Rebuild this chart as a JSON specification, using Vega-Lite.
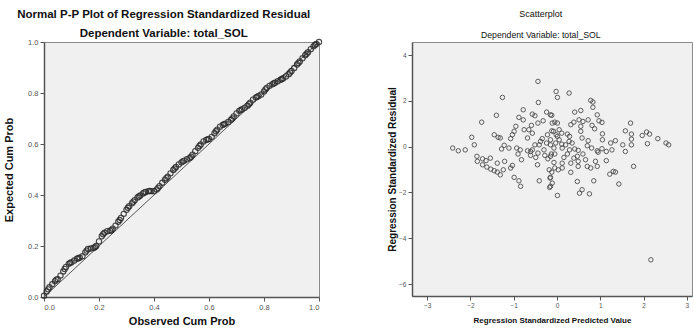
{
  "$schema": "https://vega.github.io/schema/vega-lite/v6.json",
  "padding": {"left": 3, "top": 8, "right": 0, "bottom": 0},
  "spacing": 62,
  "background": "white",
  "config": {
    "font": "Liberation Sans",
    "view": {"fill": "#F0F0F0", "stroke": "#8a8a8a", "strokeWidth": 1},
    "axis": {"grid": false, "domainColor": "#555", "domainWidth": 1.5, "tickColor": "#555", "tickSize": 4, "labelColor": "#555", "labelPadding": 2, "titleColor": "#111", "titleFontWeight": "bold"},
    "title": {"color": "#111", "subtitleColor": "#111"}
  },
  "datasets": {
    "pp": [
      {"o":0.00,"e":0.005},{"o":0.01,"e":0.022},{"o":0.02,"e":0.038},{"o":0.03,"e":0.05},{"o":0.04,"e":0.062},{"o":0.05,"e":0.07},{"o":0.06,"e":0.084},{"o":0.07,"e":0.10},{"o":0.08,"e":0.118},{"o":0.09,"e":0.13},
      {"o":0.10,"e":0.136},{"o":0.11,"e":0.143},{"o":0.12,"e":0.15},{"o":0.13,"e":0.155},{"o":0.14,"e":0.16},{"o":0.15,"e":0.175},{"o":0.16,"e":0.188},{"o":0.17,"e":0.19},{"o":0.18,"e":0.192},{"o":0.19,"e":0.20},
      {"o":0.20,"e":0.218},{"o":0.21,"e":0.238},{"o":0.22,"e":0.252},{"o":0.23,"e":0.258},{"o":0.24,"e":0.26},{"o":0.25,"e":0.268},{"o":0.26,"e":0.28},{"o":0.27,"e":0.295},{"o":0.28,"e":0.31},{"o":0.29,"e":0.326},
      {"o":0.30,"e":0.342},{"o":0.31,"e":0.356},{"o":0.32,"e":0.368},{"o":0.33,"e":0.38},{"o":0.34,"e":0.39},{"o":0.35,"e":0.398},{"o":0.36,"e":0.406},{"o":0.37,"e":0.412},{"o":0.38,"e":0.415},{"o":0.39,"e":0.415},
      {"o":0.40,"e":0.415},{"o":0.41,"e":0.422},{"o":0.42,"e":0.435},{"o":0.43,"e":0.448},{"o":0.44,"e":0.46},{"o":0.45,"e":0.472},{"o":0.46,"e":0.485},{"o":0.47,"e":0.498},{"o":0.48,"e":0.51},{"o":0.49,"e":0.52},
      {"o":0.50,"e":0.528},{"o":0.51,"e":0.535},{"o":0.52,"e":0.54},{"o":0.53,"e":0.545},{"o":0.54,"e":0.558},{"o":0.55,"e":0.572},{"o":0.56,"e":0.585},{"o":0.57,"e":0.598},{"o":0.58,"e":0.61},{"o":0.59,"e":0.616},
      {"o":0.60,"e":0.62},{"o":0.61,"e":0.628},{"o":0.62,"e":0.642},{"o":0.63,"e":0.656},{"o":0.64,"e":0.668},{"o":0.65,"e":0.675},{"o":0.66,"e":0.68},{"o":0.67,"e":0.686},{"o":0.68,"e":0.695},{"o":0.69,"e":0.708},
      {"o":0.70,"e":0.72},{"o":0.71,"e":0.73},{"o":0.72,"e":0.736},{"o":0.73,"e":0.742},{"o":0.74,"e":0.75},{"o":0.75,"e":0.762},{"o":0.76,"e":0.774},{"o":0.77,"e":0.782},{"o":0.78,"e":0.788},{"o":0.79,"e":0.794},
      {"o":0.80,"e":0.806},{"o":0.81,"e":0.82},{"o":0.82,"e":0.828},{"o":0.83,"e":0.834},{"o":0.84,"e":0.84},{"o":0.85,"e":0.846},{"o":0.86,"e":0.852},{"o":0.87,"e":0.858},{"o":0.88,"e":0.865},{"o":0.89,"e":0.874},
      {"o":0.90,"e":0.886},{"o":0.91,"e":0.898},{"o":0.92,"e":0.912},{"o":0.93,"e":0.924},{"o":0.94,"e":0.936},{"o":0.95,"e":0.948},{"o":0.96,"e":0.96},{"o":0.97,"e":0.972},{"o":0.98,"e":0.983},{"o":0.99,"e":0.992},
      {"o":1.00,"e":1.0},
      {"o":0.015,"e":0.03},{"o":0.045,"e":0.068},{"o":0.075,"e":0.11},{"o":0.095,"e":0.134},{"o":0.125,"e":0.152},{"o":0.155,"e":0.182},{"o":0.185,"e":0.195},{"o":0.215,"e":0.246},{"o":0.245,"e":0.262},{"o":0.275,"e":0.302},
      {"o":0.305,"e":0.35},{"o":0.325,"e":0.374},{"o":0.345,"e":0.394},{"o":0.365,"e":0.41},{"o":0.385,"e":0.416},{"o":0.415,"e":0.428},{"o":0.445,"e":0.466},{"o":0.475,"e":0.504},{"o":0.505,"e":0.532},{"o":0.535,"e":0.55},
      {"o":0.565,"e":0.592},{"o":0.595,"e":0.618},{"o":0.625,"e":0.65},{"o":0.655,"e":0.678},{"o":0.685,"e":0.70},{"o":0.715,"e":0.733},{"o":0.745,"e":0.756},{"o":0.775,"e":0.785},{"o":0.805,"e":0.814},{"o":0.835,"e":0.837},
      {"o":0.865,"e":0.855},{"o":0.895,"e":0.88},{"o":0.925,"e":0.918},{"o":0.955,"e":0.954},{"o":0.985,"e":0.988}
    ],
    "diag": [{"o":0,"e":0},{"o":1,"e":1}],
    "sc": [
      {"p":-0.44,"r":2.85},{"p":-1.26,"r":2.15},{"p":-0.43,"r":1.93},{"p":-0.78,"r":1.61},{"p":-1.40,"r":1.37},{"p":-1.74,"r":1.07},{"p":-0.57,"r":1.42},{"p":-0.51,"r":1.35},{"p":-0.88,"r":1.28},{"p":-0.78,"r":1.17},
      {"p":-0.32,"r":1.13},{"p":-0.24,"r":1.51},{"p":-0.15,"r":1.39},{"p":-0.44,"r":1.03},{"p":-0.59,"r":0.93},{"p":-0.95,"r":0.89},{"p":-0.76,"r":0.74},{"p":-0.65,"r":0.74},{"p":-0.57,"r":0.59},{"p":-0.99,"r":0.67},
      {"p":-1.03,"r":0.52},{"p":-1.45,"r":0.52},{"p":-1.36,"r":0.41},{"p":-1.31,"r":0.38},{"p":-1.07,"r":0.35},{"p":-1.97,"r":0.41},{"p":-1.91,"r":0.08},{"p":-2.41,"r":-0.06},{"p":-2.28,"r":-0.18},{"p":-2.12,"r":-0.14},
      {"p":-1.22,"r":0.06},{"p":-1.28,"r":-0.10},{"p":-1.11,"r":-0.06},{"p":-0.93,"r":-0.06},{"p":-0.85,"r":-0.14},{"p":-0.68,"r":-0.18},{"p":-0.57,"r":-0.14},{"p":-0.90,"r":-0.32},{"p":-0.82,"r":-0.57},{"p":-0.61,"r":-0.38},
      {"p":-0.49,"r":-0.47},{"p":-0.45,"r":-0.79},{"p":-0.30,"r":-0.14},{"p":-0.41,"r":0.08},{"p":-0.38,"r":0.23},{"p":-0.24,"r":0.16},{"p":-0.15,"r":0.08},{"p":-0.21,"r":-0.53},{"p":-1.85,"r":-0.42},{"p":-1.72,"r":-0.53},
      {"p":-1.84,"r":-0.64},{"p":-1.64,"r":-0.61},{"p":-1.54,"r":-0.50},{"p":-1.72,"r":-0.79},{"p":-1.62,"r":-0.89},{"p":-1.53,"r":-0.98},{"p":-1.45,"r":-1.05},{"p":-1.38,"r":-1.11},{"p":-1.31,"r":-1.23},{"p":-1.24,"r":-1.01},
      {"p":-1.38,"r":-0.72},{"p":-1.21,"r":-0.64},{"p":-1.07,"r":-0.93},{"p":-1.03,"r":-0.82},{"p":-0.99,"r":-1.34},{"p":-0.88,"r":-1.49},{"p":-0.84,"r":-1.73},{"p":-0.41,"r":-1.49},{"p":-0.16,"r":-1.37},{"p":-0.15,"r":-1.73},
      {"p":-0.08,"r":0.67},{"p":-0.18,"r":-1.01},{"p":-0.34,"r":0.35},{"p":-0.61,"r":-0.21},{"p":-0.13,"r":-0.32},{"p":-0.22,"r":0.52},{"p":-0.51,"r":0.08},{"p":-0.68,"r":0.38},{"p":-0.28,"r":-0.38},{"p":-0.44,"r":-0.28},
      {"p":-0.02,"r":2.41},{"p":0.01,"r":2.15},{"p":0.28,"r":2.34},{"p":0.78,"r":2.02},{"p":0.83,"r":1.95},{"p":0.83,"r":1.72},{"p":0.41,"r":1.51},{"p":0.55,"r":1.58},{"p":0.93,"r":1.39},{"p":-0.12,"r":1.37},
      {"p":-0.05,"r":1.07},{"p":0.01,"r":1.03},{"p":0.32,"r":0.96},{"p":0.39,"r":1.07},{"p":0.51,"r":1.17},{"p":0.60,"r":1.10},{"p":0.72,"r":1.17},{"p":0.81,"r":0.93},{"p":0.87,"r":0.78},{"p":0.97,"r":1.13},
      {"p":1.04,"r":1.06},{"p":0.55,"r":0.89},{"p":0.55,"r":0.67},{"p":-0.12,"r":0.69},{"p":0.05,"r":0.74},{"p":0.11,"r":0.59},{"p":0.24,"r":0.55},{"p":0.29,"r":0.45},{"p":0.01,"r":0.45},{"p":-0.03,"r":0.16},
      {"p":-0.15,"r":0.30},{"p":0.11,"r":0.11},{"p":0.28,"r":0.23},{"p":0.35,"r":0.16},{"p":0.12,"r":-0.06},{"p":-0.05,"r":-0.32},{"p":-0.15,"r":-0.42},{"p":0.16,"r":-0.47},{"p":0.29,"r":-0.14},{"p":0.41,"r":-0.10},
      {"p":0.49,"r":-0.16},{"p":0.60,"r":-0.32},{"p":0.72,"r":0.26},{"p":0.70,"r":0.04},{"p":0.80,"r":-0.06},{"p":0.93,"r":-0.18},{"p":0.95,"r":-0.24},{"p":1.04,"r":-0.09},{"p":1.05,"r":0.30},{"p":1.05,"r":0.56},
      {"p":1.24,"r":0.16},{"p":1.27,"r":-0.14},{"p":1.35,"r":0.26},{"p":1.14,"r":-0.21},{"p":1.52,"r":0.08},{"p":1.58,"r":0.69},{"p":1.58,"r":-0.21},{"p":1.70,"r":1.03},{"p":1.72,"r":0.55},{"p":1.72,"r":0.33},
      {"p":1.72,"r":0.08},{"p":1.97,"r":0.49},{"p":2.07,"r":0.64},{"p":2.14,"r":0.55},{"p":2.09,"r":0.13},{"p":2.33,"r":0.35},{"p":2.52,"r":0.16},{"p":2.58,"r":0.08},{"p":1.14,"r":-0.61},{"p":0.66,"r":-0.57},
      {"p":0.49,"r":-0.64},{"p":0.49,"r":-0.86},{"p":0.32,"r":-0.72},{"p":0.12,"r":-0.72},{"p":-0.07,"r":-0.69},{"p":-0.05,"r":-0.93},{"p":0.03,"r":-1.01},{"p":0.32,"r":-1.12},{"p":0.70,"r":-0.86},{"p":0.78,"r":-0.93},
      {"p":0.93,"r":-0.86},{"p":0.89,"r":-0.64},{"p":1.22,"r":-1.20},{"p":1.30,"r":-1.08},{"p":1.35,"r":-1.11},{"p":1.43,"r":-1.63},{"p":1.77,"r":-0.86},{"p":-0.15,"r":-1.34},{"p":-0.11,"r":-1.59},{"p":0.47,"r":-1.52},
      {"p":0.58,"r":-1.88},{"p":0.52,"r":-2.03},{"p":0.75,"r":-2.06},{"p":0.85,"r":-1.49},{"p":0.01,"r":-2.13},{"p":0.58,"r":0.38},{"p":0.47,"r":-0.42},{"p":2.17,"r":-4.94},{"p":-0.17,"r":-1.78},{"p":-0.11,"r":1.03},
      {"p":-0.02,"r":0.52},{"p":-0.07,"r":-0.06},{"p":0.05,"r":0.30},{"p":0.20,"r":0.08},{"p":0.24,"r":-0.32},{"p":0.39,"r":-0.50},{"p":0.12,"r":-0.93},{"p":-0.12,"r":-1.11}
    ]
  },
  "hconcat": [
    {
      "width": 275,
      "height": 255,
      "title": {
        "text": "Normal P-P Plot of Regression Standardized Residual",
        "subtitle": "Dependent Variable: total_SOL",
        "fontSize": 11.5, "fontWeight": "bold",
        "subtitleFontSize": 11.5, "subtitleFontWeight": "bold",
        "subtitlePadding": 7, "offset": -2,
        "anchor": "middle", "frame": "bounds"
      },
      "layer": [
        {
          "data": {"name": "diag"},
          "mark": {"type": "line", "color": "#555", "strokeWidth": 1},
          "encoding": {
            "x": {"field": "o", "type": "quantitative"},
            "y": {"field": "e", "type": "quantitative"}
          }
        },
        {
          "data": {"name": "pp"},
          "mark": {"type": "point", "filled": false, "stroke": "#2a2a2a", "strokeWidth": 1.1, "size": 28, "opacity": 0.85},
          "encoding": {
            "x": {"field": "o", "type": "quantitative", "scale": {"domain": [0, 1], "nice": false, "zero": false},
                  "axis": {"values": [0, 0.2, 0.4, 0.6, 0.8, 1], "format": ".1f", "title": "Observed Cum Prob", "titleFontSize": 11, "labelFontSize": 7.5, "titlePadding": 5}},
            "y": {"field": "e", "type": "quantitative", "scale": {"domain": [0, 1], "nice": false, "zero": false},
                  "axis": {"values": [0, 0.2, 0.4, 0.6, 0.8, 1], "format": ".1f", "title": "Expected Cum Prob", "titleFontSize": 11, "labelFontSize": 7.5, "titlePadding": 13}}
          }
        }
      ]
    },
    {
      "width": 280,
      "height": 254,
      "title": {
        "text": "Scatterplot",
        "subtitle": "Dependent Variable: total_SOL",
        "fontSize": 9, "fontWeight": "normal",
        "subtitleFontSize": 8.7, "subtitleFontWeight": "normal",
        "subtitlePadding": 12, "offset": 2, "dx": 1,
        "anchor": "middle", "frame": "bounds"
      },
      "data": {"name": "sc"},
      "mark": {"type": "point", "filled": false, "stroke": "#444", "strokeWidth": 1, "size": 20, "opacity": 0.85},
      "encoding": {
        "x": {"field": "p", "type": "quantitative", "scale": {"domain": [-3.35, 3.12], "nice": false, "zero": false},
              "axis": {"values": [-3, -2, -1, 0, 1, 2, 3], "title": "Regression Standardized Predicted Value", "titleFontSize": 8, "labelFontSize": 6.5, "titlePadding": 8}},
        "y": {"field": "r", "type": "quantitative", "scale": {"domain": [-6.52, 4.57], "nice": false, "zero": false},
              "axis": {"values": [-6, -4, -2, 0, 2, 4], "title": "Regression Standardized Residual", "titleFontSize": 10, "labelFontSize": 6.5, "titlePadding": 1}}
      }
    }
  ]
}
